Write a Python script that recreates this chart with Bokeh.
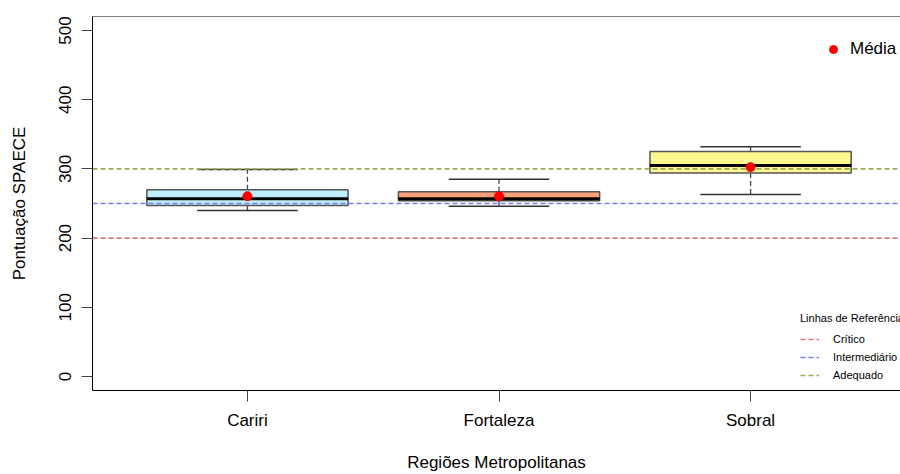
from bokeh.plotting import figure
from bokeh.models import Range1d, FixedTicker, Span, Legend, LegendItem, ColumnDataSource
from bokeh.embed import file_html
from bokeh.resources import INLINE

# ---- data ----
categories = ["Cariri", "Fortaleza", "Sobral"]
lower_whisker = [240, 246, 263]
q1 = [247, 254, 294]
median = [257, 257, 305]
q3 = [270, 267, 325]
upper_whisker = [299, 285, 332]
mean = [260.5, 260.5, 302.5]
box_colors = ["#BFEFFF", "#FFA07A", "#FFF68F"]

ref_labels = ["Crítico", "Intermediário", "Adequado"]
ref_values = [200, 250, 300]
ref_colors = ["#E57777", "#7B7BFF", "#98AF5A"]

y_ticks = [0, 100, 200, 300, 400, 500]

# axis limits
X_LO, X_HI = 0.384, 3.596
Y_LO, Y_HI = -20.2, 520.2

FONT = "Liberation Sans"
BOX_W = 0.8
CAP_W = 0.4

pos = [i + 1 for i in range(len(categories))]
src = ColumnDataSource(dict(
    x=pos, lw=lower_whisker, q1=q1, med=median, q3=q3, uw=upper_whisker, mean=mean,
    color=box_colors,
    bx0=[p - BOX_W / 2 for p in pos], bx1=[p + BOX_W / 2 for p in pos],
    cx0=[p - CAP_W / 2 for p in pos], cx1=[p + CAP_W / 2 for p in pos],
))

p = figure(width=900, height=474, output_backend="svg", toolbar_location=None,
           x_range=Range1d(X_LO, X_HI), y_range=Range1d(Y_LO, Y_HI),
           min_border_left=92, min_border_top=16, min_border_right=0, min_border_bottom=84)
p.outline_line_color = None
p.xgrid.visible = False
p.ygrid.visible = False
p.background_fill_color = "white"
p.border_fill_color = "white"

# whiskers (dashed) and caps
p.segment(x0="x", y0="q3", x1="x", y1="uw", source=src, line_color="#444444",
          line_width=1.3, line_dash="5 3")
p.segment(x0="x", y0="q1", x1="x", y1="lw", source=src, line_color="#444444",
          line_width=1.3, line_dash="5 3")
p.segment(x0="cx0", y0="uw", x1="cx1", y1="uw", source=src, line_color="#333333", line_width=1.5)
p.segment(x0="cx0", y0="lw", x1="cx1", y1="lw", source=src, line_color="#333333", line_width=1.5)

# boxes
p.vbar(x="x", width=BOX_W, bottom="q1", top="q3", source=src, fill_color="color",
       line_color="#555555", line_width=1.5)
# medians
p.segment(x0="bx0", y0="med", x1="bx1", y1="med", source=src, line_color="black", line_width=3)

# reference lines
ref_renderers = []
for lab, v, c in zip(ref_labels, ref_values, ref_colors):
    r = p.line(x=[X_LO, X_HI], y=[v, v], line_color=c, line_width=1.6, line_dash="5 3")
    ref_renderers.append((lab, r))

# means
mean_r = p.scatter(x="x", y="mean", source=src, size=9, color="red", marker="circle")

# top border
p.add_layout(Span(location=Y_HI, dimension="width", line_color="black", line_width=1))

# axes
p.yaxis.ticker = FixedTicker(ticks=y_ticks)
p.yaxis.minor_tick_line_color = None
p.yaxis.major_tick_out = 11
p.yaxis.major_tick_in = 0
p.yaxis.major_label_orientation = "vertical"
p.yaxis.major_label_standoff = 10
p.yaxis.major_label_text_font = FONT
p.yaxis.major_label_text_font_size = "17px"
p.yaxis.major_label_text_color = "black"
p.yaxis.axis_label = "Pontuação SPAECE"
p.yaxis.axis_label_text_font = FONT
p.yaxis.axis_label_text_font_size = "17px"
p.yaxis.axis_label_text_font_style = "normal"
p.yaxis.axis_label_text_color = "black"
p.yaxis.axis_label_standoff = 28
p.yaxis.axis_line_color = "black"
p.yaxis.major_tick_line_color = "#444444"

p.xaxis.ticker = FixedTicker(ticks=pos)
p.xaxis.major_label_overrides = {pp: c for pp, c in zip(pos, categories)}
p.xaxis.minor_tick_line_color = None
p.xaxis.major_tick_out = 11
p.xaxis.major_tick_in = 0
p.xaxis.major_label_standoff = 9
p.xaxis.major_label_text_font = FONT
p.xaxis.major_label_text_font_size = "17px"
p.xaxis.major_label_text_color = "black"
p.xaxis.axis_label = "Regiões Metropolitanas"
p.xaxis.axis_label_text_font = FONT
p.xaxis.axis_label_text_font_size = "17px"
p.xaxis.axis_label_text_font_style = "normal"
p.xaxis.axis_label_text_color = "black"
p.xaxis.axis_label_standoff = 20
p.xaxis.axis_line_color = "black"
p.xaxis.major_tick_line_color = "#444444"

# legends
leg_mean = Legend(items=[LegendItem(label="Média", renderers=[mean_r])],
                  location=(731, 331), padding=0, margin=0, spacing=0,
                  glyph_width=20, glyph_height=20, label_standoff=7,
                  label_text_font=FONT, label_text_font_size="17px",
                  label_text_color="black",
                  border_line_color=None, background_fill_alpha=0)
p.add_layout(leg_mean)

leg_ref = Legend(items=[LegendItem(label=lab, renderers=[r]) for lab, r in ref_renderers],
                 title="Linhas de Referência", title_text_font=FONT,
                 title_text_font_size="11px", title_text_font_style="normal",
                 title_text_color="black", title_standoff=6,
                 location=(708, 6), padding=0, margin=0, spacing=0,
                 glyph_width=19, glyph_height=18, label_standoff=14,
                 label_text_font=FONT, label_text_font_size="11px",
                 label_text_color="black",
                 border_line_color=None, background_fill_alpha=0)
p.add_layout(leg_ref)

open("out.html", "w").write(file_html(p, INLINE))
